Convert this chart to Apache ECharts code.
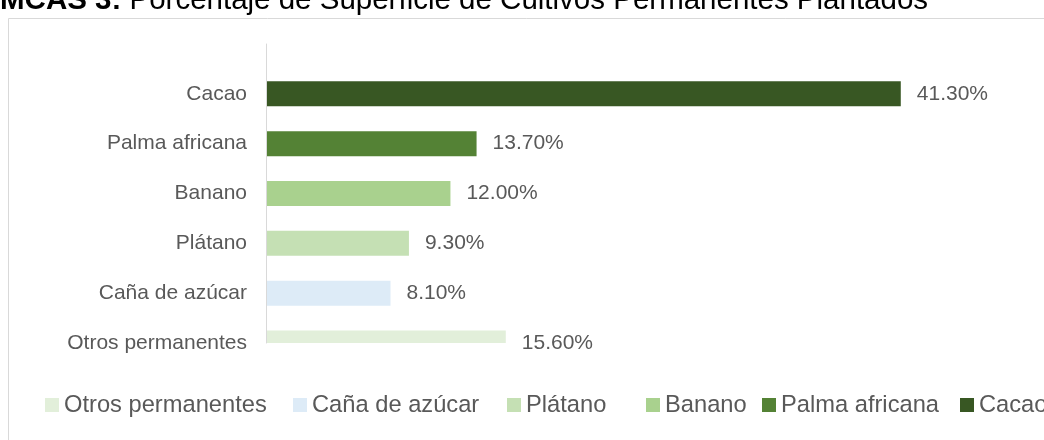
<!DOCTYPE html>
<html>
<head>
<meta charset="utf-8">
<script src="https://cdn.jsdelivr.net/npm/echarts@6.0.0/dist/echarts.min.js"></script>
<style>
  html, body { margin: 0; padding: 0; background: #fff; }
  #chart { width: 1044px; height: 440px; }
</style>
</head>
<body>
<div id="chart"></div>
<script>
// categories from bottom to top, same order as the legend
const categories = ['Otros permanentes', 'Caña de azúcar', 'Plátano', 'Banano', 'Palma africana', 'Cacao']
const values = [15.6, 8.1, 9.3, 12.0, 13.7, 41.3]

const colors = ['#e2efda', '#ddebf7', '#c5e0b4', '#a9d18e', '#548235', '#385723']
const font = "'Liberation Sans', Arial, sans-serif"
const textGrey = '#595959'
const barThickness = 25
// excel spaces the legend entries unevenly, so each entry gets its own left edge
const legendLeft = [45, 293, 507, 646, 762, 960]

const chart = echarts.init(document.getElementById('chart'))

// bars are cut at the plot edge like in the excel original (the last one is half hidden)
const renderBar = (params, api) => {
  const cat = api.value(1)
  const start = api.coord([0, cat])
  const end = api.coord([api.value(0), cat])
  const cs = params.coordSys
  const rect = echarts.graphic.clipRectByRect(
    { x: start[0], y: start[1] - barThickness / 2, width: end[0] - start[0], height: barThickness },
    { x: cs.x, y: cs.y, width: cs.width, height: cs.height }
  )
  return rect && { type: 'rect', shape: rect, style: { fill: api.visual('color') } }
}

// one series per category so every crop gets its own legend entry
const barSeries = categories.map((name, i) => ({
  name: name,
  type: 'custom',
  renderItem: renderBar,
  encode: { x: 0, y: 1 },
  itemStyle: { color: colors[i] },
  data: [[values[i], name]]
}))

// invisible bars carrying the value labels
const labelSeries = {
  name: 'labels',
  type: 'bar',
  barWidth: barThickness,
  clip: false,
  silent: true,
  itemStyle: { color: 'rgba(0,0,0,0)' },
  label: {
    show: true,
    position: 'right',
    distance: 16,
    color: textGrey,
    fontSize: 21,
    fontFamily: font,
    formatter: p => p.value.toFixed(2) + '%'
  },
  data: values
}

const legends = categories.map((name, i) => ({
  data: [name],
  left: legendLeft[i],
  top: 393,
  padding: 0,
  itemWidth: 14,
  itemHeight: 14,
  icon: 'rect',
  selectedMode: false,
  textStyle: { color: textGrey, fontSize: 23.7, fontFamily: font }
}))

const option = {
  backgroundColor: '#fff',
  animation: false,
  title: {
    text: '{b|MCAS 3:} Porcentaje de Superficie de Cultivos Permanentes Plantados',
    left: 0,
    top: -14,
    padding: 0,
    textStyle: {
      fontSize: 29.5,
      fontWeight: 'normal',
      fontFamily: font,
      color: '#000',
      rich: {
        b: { fontSize: 29.5, fontWeight: 'bold', fontFamily: font, color: '#000' }
      }
    }
  },
  graphic: [
    {
      type: 'rect',
      silent: true,
      shape: { x: 8.5, y: 18.5, width: 1100, height: 500 },
      style: { fill: 'none', stroke: '#d9d9d9', lineWidth: 1 }
    }
  ],
  legend: legends,
  grid: {
    left: 266,
    right: 9.5,
    top: 44,
    bottom: 97,
    containLabel: false,
    outerBoundsMode: 'none'
  },
  xAxis: {
    type: 'value',
    min: 0,
    max: 50,
    show: false
  },
  yAxis: {
    type: 'category',
    boundaryGap: false,
    data: categories.concat(['']),
    z: 5,
    axisLine: { show: true, lineStyle: { color: '#d9d9d9', width: 1 } },
    axisTick: { show: false },
    splitLine: { show: false },
    axisLabel: {
      color: textGrey,
      fontSize: 21,
      fontFamily: font,
      margin: 19
    }
  },
  series: barSeries.concat([labelSeries])
}

chart.setOption(option)
</script>
</body>
</html>
